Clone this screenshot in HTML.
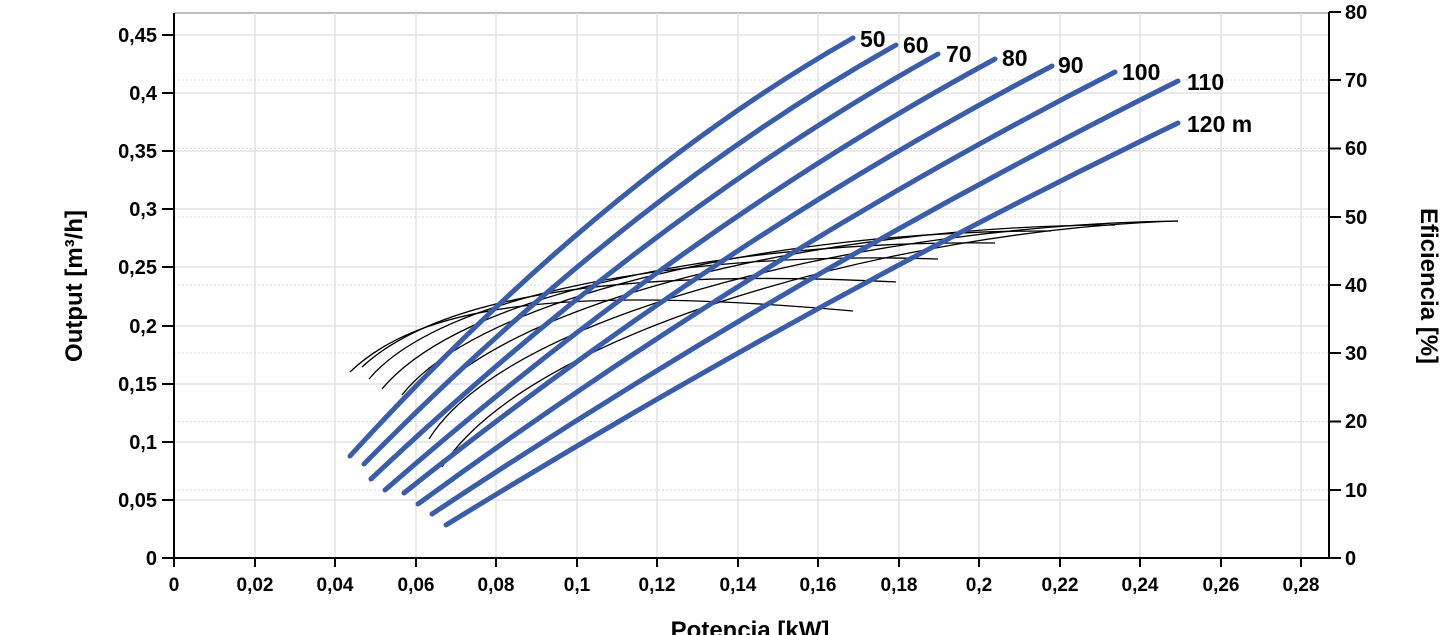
<!DOCTYPE html>
<html><head><meta charset="utf-8"><style>
html,body{margin:0;padding:0;background:#fff;}
svg{display:block;font-family:"Liberation Sans",Arial,sans-serif;font-weight:bold;}
</style></head><body>
<svg width="1445" height="635" viewBox="0 0 1445 635" xmlns="http://www.w3.org/2000/svg">
<g stroke="#e3e3e3" stroke-width="1.5">
<line x1="174" y1="13" x2="1329" y2="13" stroke="#aaa"/>
<line x1="174" y1="500" x2="1329" y2="500"/><line x1="174" y1="442" x2="1329" y2="442"/>
<line x1="174" y1="384" x2="1329" y2="384"/><line x1="174" y1="326" x2="1329" y2="326"/>
<line x1="174" y1="267" x2="1329" y2="267"/><line x1="174" y1="209" x2="1329" y2="209"/>
<line x1="174" y1="151" x2="1329" y2="151"/><line x1="174" y1="93" x2="1329" y2="93"/>
<line x1="174" y1="35" x2="1329" y2="35"/>
<line x1="255" y1="13" x2="255" y2="558"/><line x1="335" y1="13" x2="335" y2="558"/>
<line x1="416" y1="13" x2="416" y2="558"/><line x1="496" y1="13" x2="496" y2="558"/>
<line x1="577" y1="13" x2="577" y2="558"/><line x1="657" y1="13" x2="657" y2="558"/>
<line x1="738" y1="13" x2="738" y2="558"/><line x1="818" y1="13" x2="818" y2="558"/>
<line x1="899" y1="13" x2="899" y2="558"/><line x1="979" y1="13" x2="979" y2="558"/>
<line x1="1060" y1="13" x2="1060" y2="558"/><line x1="1140" y1="13" x2="1140" y2="558"/>
<line x1="1221" y1="13" x2="1221" y2="558"/><line x1="1301" y1="13" x2="1301" y2="558"/>
</g>
<g stroke="#d8d8d8" stroke-width="1" stroke-dasharray="2,2">
<line x1="174" y1="490" x2="1329" y2="490"/><line x1="174" y1="421.5" x2="1329" y2="421.5"/>
<line x1="174" y1="353" x2="1329" y2="353"/><line x1="174" y1="285" x2="1329" y2="285"/>
<line x1="174" y1="217" x2="1329" y2="217"/><line x1="174" y1="148.5" x2="1329" y2="148.5"/>
<line x1="174" y1="80" x2="1329" y2="80"/>
</g>
<g stroke="#000" stroke-width="2" fill="none">
<line x1="174" y1="13" x2="174" y2="559"/>
<line x1="173" y1="558" x2="1330" y2="558"/>
<line x1="1329" y1="12" x2="1329" y2="559"/>
</g>
<g stroke="#000" stroke-width="2">
<line x1="162" y1="558" x2="174" y2="558"/><line x1="162" y1="500" x2="174" y2="500"/>
<line x1="162" y1="442" x2="174" y2="442"/><line x1="162" y1="384" x2="174" y2="384"/>
<line x1="162" y1="326" x2="174" y2="326"/><line x1="162" y1="267" x2="174" y2="267"/>
<line x1="162" y1="209" x2="174" y2="209"/><line x1="162" y1="151" x2="174" y2="151"/>
<line x1="162" y1="93" x2="174" y2="93"/><line x1="162" y1="35" x2="174" y2="35"/>
<line x1="1329" y1="558" x2="1341" y2="558"/><line x1="1329" y1="490" x2="1341" y2="490"/>
<line x1="1329" y1="421.5" x2="1341" y2="421.5"/><line x1="1329" y1="353" x2="1341" y2="353"/>
<line x1="1329" y1="285" x2="1341" y2="285"/><line x1="1329" y1="217" x2="1341" y2="217"/>
<line x1="1329" y1="148.5" x2="1341" y2="148.5"/><line x1="1329" y1="80" x2="1341" y2="80"/>
<line x1="1329" y1="12" x2="1341" y2="12"/>
<line x1="174" y1="558" x2="174" y2="567"/><line x1="255" y1="558" x2="255" y2="567"/>
<line x1="335" y1="558" x2="335" y2="567"/><line x1="416" y1="558" x2="416" y2="567"/>
<line x1="496" y1="558" x2="496" y2="567"/><line x1="577" y1="558" x2="577" y2="567"/>
<line x1="657" y1="558" x2="657" y2="567"/><line x1="738" y1="558" x2="738" y2="567"/>
<line x1="818" y1="558" x2="818" y2="567"/><line x1="899" y1="558" x2="899" y2="567"/>
<line x1="979" y1="558" x2="979" y2="567"/><line x1="1060" y1="558" x2="1060" y2="567"/>
<line x1="1140" y1="558" x2="1140" y2="567"/><line x1="1221" y1="558" x2="1221" y2="567"/>
<line x1="1301" y1="558" x2="1301" y2="567"/>
</g>
<g font-size="20" text-anchor="end" fill="#000">
<text x="157" y="565">0</text><text x="157" y="507">0,05</text><text x="157" y="449">0,1</text>
<text x="157" y="391">0,15</text><text x="157" y="333">0,2</text><text x="157" y="274">0,25</text>
<text x="157" y="216">0,3</text><text x="157" y="158">0,35</text><text x="157" y="100">0,4</text>
<text x="157" y="42">0,45</text>
</g>
<g font-size="20" text-anchor="start" fill="#000">
<text x="1345" y="565">0</text><text x="1345" y="497">10</text><text x="1345" y="428">20</text>
<text x="1345" y="360">30</text><text x="1345" y="292">40</text><text x="1345" y="224">50</text>
<text x="1345" y="155">60</text><text x="1345" y="87">70</text><text x="1345" y="19">80</text>
</g>
<g font-size="19" text-anchor="middle" fill="#000">
<text x="174" y="591">0</text><text x="255" y="591">0,02</text><text x="335" y="591">0,04</text>
<text x="416" y="591">0,06</text><text x="496" y="591">0,08</text><text x="577" y="591">0,1</text>
<text x="657" y="591">0,12</text><text x="738" y="591">0,14</text><text x="818" y="591">0,16</text>
<text x="899" y="591">0,18</text><text x="979" y="591">0,2</text><text x="1060" y="591">0,22</text>
<text x="1140" y="591">0,24</text><text x="1221" y="591">0,26</text><text x="1301" y="591">0,28</text>
</g>
<text x="750" y="638" font-size="24" text-anchor="middle">Potencia [kW]</text>
<text transform="translate(82,286) rotate(-90)" font-size="24" text-anchor="middle">Output [m³/h]</text>
<text transform="translate(1421,286) rotate(90)" font-size="24" text-anchor="middle">Eficiencia [%]</text>
<g stroke="#000" stroke-width="1.3" fill="none">
<path d="M350,372 C420,305 560,285 853,311"/>
<path d="M362,367 C440,295 620,268 896,282"/>
<path d="M369,379 C440,295 680,250 938,259"/>
<path d="M382,389 C460,295 720,240 995,243"/>
<path d="M402,395 C480,295 780,230 1051,231"/>
<path d="M416,415 C495,300 830,225 1115,225"/>
<path d="M429,439 C510,310 880,225 1178,221"/>
<path d="M442,467 C530,330 900,230 1178,221"/>
</g>
<g stroke="#3a5cab" stroke-width="5" fill="none" stroke-linecap="round">
<path d="M350,456 Q601,181 853,38"/>
<path d="M364,464 Q630,194 896,45"/>
<path d="M371,479 Q654,212 938,54"/>
<path d="M385,490 Q690,224 995,59"/>
<path d="M404,493 Q728,235 1052,66"/>
<path d="M418,504 Q766,250 1115,72"/>
<path d="M432,514 Q805,267 1178,81"/>
<path d="M446,525 Q812,300 1178,123"/>
</g>
<g font-size="23" fill="#000">
<text x="860" y="47">50</text><text x="903" y="53">60</text><text x="946" y="62">70</text>
<text x="1002" y="66">80</text><text x="1058" y="73">90</text><text x="1122" y="80">100</text>
<text x="1187" y="90">110</text><text x="1187" y="132">120 m</text>
</g>
</svg>
</body></html>
